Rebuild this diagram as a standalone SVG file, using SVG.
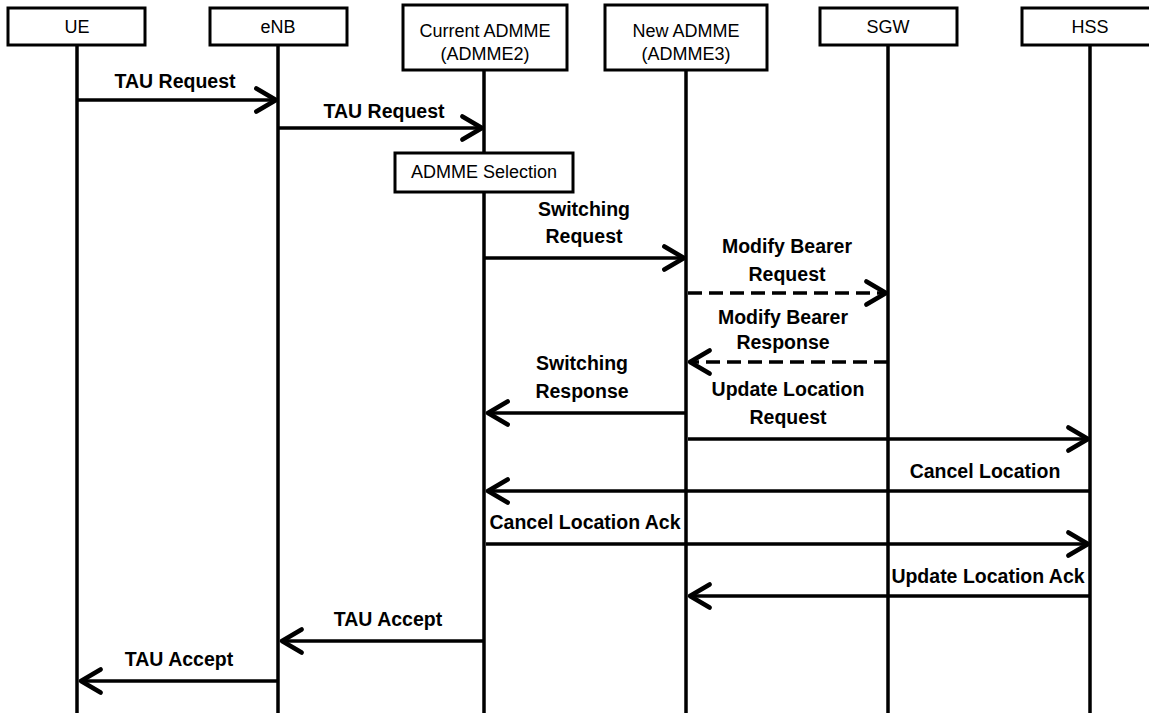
<svg xmlns="http://www.w3.org/2000/svg" width="1149" height="713" viewBox="0 0 1149 713">
  <style>
    .box { fill: #fff; stroke: #000; stroke-width: 3; }
    .life { stroke: #000; stroke-width: 3.5; fill: none; }
    .msg { stroke: #000; stroke-width: 3.5; fill: none; marker-end: url(#head); }
    .dash { stroke-dasharray: 14 7; }
    .name { font-family: "Liberation Sans", Arial, sans-serif; font-size: 18px; fill: #000; text-anchor: middle; }
    .lbl { font-family: "Liberation Sans", Arial, sans-serif; font-size: 19.5px; font-weight: bold; fill: #000; text-anchor: middle; }
  </style>
  <defs>
    <marker id="head" markerUnits="userSpaceOnUse" markerWidth="30" markerHeight="30" viewBox="-20 -13 24 26" refX="0" refY="0" orient="auto" overflow="visible">
      <path d="M -17 -10 L 0 0 L -17 10" fill="none" stroke="#000" stroke-width="4" stroke-linecap="round" stroke-linejoin="round"/>
    </marker>
  </defs>
  <rect width="1149" height="713" fill="#fff"/>

  <!-- participants with lifelines -->
  <g id="ue">
    <line class="life" x1="77" y1="45" x2="77" y2="713"/>
    <rect class="box" x="8" y="8" width="137" height="37"/>
    <text class="name" x="77" y="33">UE</text>
  </g>
  <g id="enb">
    <line class="life" x1="278" y1="45" x2="278" y2="713"/>
    <rect class="box" x="210" y="8" width="137" height="37"/>
    <text class="name" x="278" y="33">eNB</text>
  </g>
  <g id="admme2">
    <line class="life" x1="484" y1="70" x2="484" y2="713"/>
    <rect class="box" x="403" y="5" width="164" height="65"/>
    <text class="name" x="485" y="37">Current ADMME</text>
    <text class="name" x="485" y="60">(ADMME2)</text>
  </g>
  <g id="admme3">
    <line class="life" x1="686" y1="70" x2="686" y2="713"/>
    <rect class="box" x="605" y="5" width="162" height="65"/>
    <text class="name" x="686" y="37">New ADMME</text>
    <text class="name" x="686" y="60">(ADMME3)</text>
  </g>
  <g id="sgw">
    <line class="life" x1="888" y1="45" x2="888" y2="713"/>
    <rect class="box" x="820" y="8" width="137" height="37"/>
    <text class="name" x="888" y="33">SGW</text>
  </g>
  <g id="hss">
    <line class="life" x1="1090" y1="45" x2="1090" y2="713"/>
    <rect class="box" x="1022" y="8" width="137" height="37"/>
    <text class="name" x="1090" y="33">HSS</text>
  </g>

  <!-- local action on the current ADMME -->
  <g id="selection">
    <rect class="box" x="395" y="153" width="178" height="39"/>
    <text class="name" x="484" y="178">ADMME Selection</text>
  </g>

  <!-- messages -->
  <g id="connectors">
    <line class="msg" x1="77" y1="100" x2="276" y2="100"/>
    <line class="msg" x1="278" y1="128" x2="482" y2="128"/>
    <line class="msg" x1="484" y1="258" x2="684" y2="258"/>
    <line class="msg dash" x1="688" y1="293" x2="886" y2="293"/>
    <line class="msg dash" x1="888" y1="362" x2="690" y2="362"/>
    <line class="msg" x1="686" y1="413" x2="488" y2="413"/>
    <line class="msg" x1="688" y1="439" x2="1088" y2="439"/>
    <line class="msg" x1="1090" y1="491" x2="488" y2="491"/>
    <line class="msg" x1="486" y1="544" x2="1088" y2="544"/>
    <line class="msg" x1="1090" y1="596" x2="690" y2="596"/>
    <line class="msg" x1="484" y1="641" x2="282" y2="641"/>
    <line class="msg" x1="278" y1="681" x2="81" y2="681"/>
  </g>

  <!-- message labels -->
  <g id="labels">
    <text class="lbl" x="175" y="88">TAU Request</text>
    <text class="lbl" x="384" y="118">TAU Request</text>
    <text class="lbl" x="584" y="216">Switching</text>
    <text class="lbl" x="584" y="243">Request</text>
    <text class="lbl" x="787" y="253">Modify Bearer</text>
    <text class="lbl" x="787" y="281">Request</text>
    <text class="lbl" x="783" y="324">Modify Bearer</text>
    <text class="lbl" x="783" y="349">Response</text>
    <text class="lbl" x="582" y="370">Switching</text>
    <text class="lbl" x="582" y="398">Response</text>
    <text class="lbl" x="788" y="396">Update Location</text>
    <text class="lbl" x="788" y="424">Request</text>
    <text class="lbl" x="985" y="478">Cancel Location</text>
    <text class="lbl" x="585" y="529">Cancel Location Ack</text>
    <text class="lbl" x="988" y="583">Update Location Ack</text>
    <text class="lbl" x="388" y="626">TAU Accept</text>
    <text class="lbl" x="179" y="666">TAU Accept</text>
  </g>
</svg>
